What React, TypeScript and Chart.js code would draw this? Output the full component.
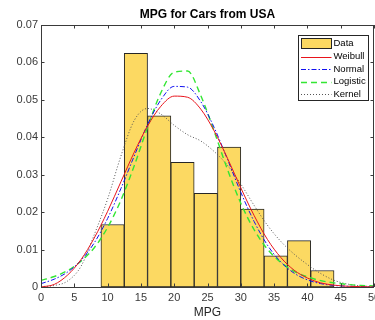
import React, { useEffect, useRef } from "react";
import { Chart, registerables } from "chart.js";

Chart.register(...registerables);

const chartTitle = "MPG for Cars from USA";
const xAxisLabel = "MPG";
const legendLabels = ["Data", "Weibull", "Normal", "Logistic", "Kernel"];

// histogram (normalized, bin width 3.5 from 9 to 44)
const binCenters = [10.75, 14.25, 17.75, 21.25, 24.75, 28.25, 31.75, 35.25, 38.75, 42.25];
const binDensity = [0.0167, 0.0624, 0.0457, 0.0333, 0.025, 0.0374, 0.0208, 0.0083, 0.0124, 0.0044];

const mpgGrid = [0, 2, 4, 6, 8, 10, 12, 14, 16, 18, 20, 22, 24, 26, 28, 30, 32, 34, 36, 38, 40, 42, 44, 46, 48, 50];
const weibullPdf = [0, 0.0007, 0.0032, 0.0073, 0.0131, 0.0202, 0.0281, 0.036, 0.043, 0.0483, 0.051, 0.0507, 0.0475, 0.0417, 0.0344, 0.0265, 0.0191, 0.0127, 0.0079, 0.0045, 0.0024, 0.0011, 0.0005, 0.0002, 0.0001, 0.0];
const normalPdf = [0.0009, 0.0021, 0.004, 0.0071, 0.0118, 0.0183, 0.0263, 0.035, 0.0434, 0.05, 0.0536, 0.0534, 0.0495, 0.0426, 0.0341, 0.0253, 0.0175, 0.0112, 0.0067, 0.0037, 0.0019, 0.0009, 0.0004, 0.0002, 0.0001, 0.0];
const logisticPdf = [0.0018, 0.0028, 0.0044, 0.0069, 0.0105, 0.0159, 0.0232, 0.0324, 0.0427, 0.0519, 0.0574, 0.0577, 0.0511, 0.0416, 0.0314, 0.0224, 0.0153, 0.0101, 0.0066, 0.0042, 0.0027, 0.0017, 0.0011, 0.0007, 0.0004, 0.0003];
const kernelPdf = [0.0001, 0.0004, 0.0016, 0.0055, 0.014, 0.0235, 0.035, 0.0445, 0.0477, 0.0462, 0.0432, 0.0407, 0.039, 0.0362, 0.0325, 0.0275, 0.0218, 0.0165, 0.0122, 0.0088, 0.006, 0.0036, 0.0018, 0.0008, 0.0003, 0.0001];

const xTicks = [0, 5, 10, 15, 20, 25, 30, 35, 40, 45, 50];
const yTicks = [0, 0.01, 0.02, 0.03, 0.04, 0.05, 0.06, 0.07];

const FONT = "'Liberation Sans', Arial, Helvetica, sans-serif";
const BAR_FILL = "rgb(252,217,98)";
const EDGE = "#262626";
const AXIS = "#3a3a3a";

const styles = [
  { color: "#e8141c", dash: [] as number[], width: 1 },
  { color: "#1010f0", dash: [5, 2, 1.5, 2], width: 1 },
  { color: "#33e633", dash: [6, 4], width: 1.4 },
  { color: "#555555", dash: [1, 2], width: 1 },
];

const pts = (ys: number[]) => mpgGrid.map((x, i) => ({ x, y: ys[i] }));

const decorPlugin = {
  id: "decor",
  afterDraw(chart: any) {
    const ctx = chart.ctx;
    const a = chart.chartArea;
    const xs = chart.scales.x;
    const ys = chart.scales.y;
    ctx.save();
    // inward ticks
    ctx.strokeStyle = AXIS;
    ctx.lineWidth = 1;
    ctx.beginPath();
    const tl = 3.5;
    xTicks.forEach((v) => {
      const px = Math.round(xs.getPixelForValue(v)) + 0.5;
      ctx.moveTo(px, a.bottom);
      ctx.lineTo(px, a.bottom - tl);
      ctx.moveTo(px, a.top);
      ctx.lineTo(px, a.top + tl);
    });
    yTicks.forEach((v) => {
      const py = Math.round(ys.getPixelForValue(v)) + 0.5;
      ctx.moveTo(a.left, py);
      ctx.lineTo(a.left + tl, py);
      ctx.moveTo(a.right, py);
      ctx.lineTo(a.right - tl, py);
    });
    ctx.stroke();
    // frame
    ctx.strokeStyle = AXIS;
    ctx.strokeRect(Math.round(a.left) + 0.5, Math.round(a.top) + 0.5, Math.round(a.right - a.left) - 1, Math.round(a.bottom - a.top));

    // title
    ctx.fillStyle = "#000";
    ctx.textAlign = "center";
    ctx.textBaseline = "middle";
    ctx.font = `bold 12px ${FONT}`;
    ctx.fillText(chartTitle, (a.left + a.right) / 2, 14.5);
    // x label
    ctx.fillStyle = "#262626";
    ctx.font = `12px ${FONT}`;
    ctx.fillText(xAxisLabel, (a.left + a.right) / 2, 312.5);

    // legend
    const lx = 298.5, ly = 35.5, lw = 70, lh = 65;
    ctx.fillStyle = "#fff";
    ctx.fillRect(lx, ly, lw, lh);
    ctx.strokeStyle = EDGE;
    ctx.strokeRect(lx, ly, lw, lh);
    const rowY = [43.5, 56.5, 69, 81.5, 94];
    const sx0 = 301, sx1 = 331.5;
    ctx.fillStyle = BAR_FILL;
    ctx.fillRect(301.5, 38.5, 30, 10);
    ctx.strokeStyle = EDGE;
    ctx.strokeRect(301.5, 38.5, 30, 10);
    styles.forEach((s, i) => {
      ctx.beginPath();
      ctx.strokeStyle = s.color;
      ctx.lineWidth = s.width;
      ctx.setLineDash(s.dash);
      ctx.moveTo(sx0, Math.round(rowY[i + 1]) + 0.5);
      ctx.lineTo(sx1, Math.round(rowY[i + 1]) + 0.5);
      ctx.stroke();
    });
    ctx.setLineDash([]);
    ctx.fillStyle = "#000";
    ctx.textAlign = "left";
    ctx.font = `9.5px ${FONT}`;
    legendLabels.forEach((t, i) => {
      ctx.fillText(t, 333.5, rowY[i]);
    });
    ctx.restore();
  },
};

export default function App() {
  const ref = useRef<HTMLCanvasElement | null>(null);
  useEffect(() => {
    if (!ref.current) return;
    Chart.defaults.font.family = FONT;
    const curveSets = [weibullPdf, normalPdf, logisticPdf, kernelPdf];
    const chart = new Chart(ref.current, {
      type: "bar",
      data: {
        datasets: [
          ...curveSets.map((ys, i) => ({
            type: "line" as const,
            label: legendLabels[i + 1],
            data: pts(ys),
            borderColor: styles[i].color,
            borderWidth: styles[i].width,
            borderDash: styles[i].dash,
            pointRadius: 0,
            fill: false,
            cubicInterpolationMode: "monotone" as const,
            order: i + 1,
          })),
          {
            type: "bar" as const,
            label: legendLabels[0],
            data: binCenters.map((x, i) => ({ x, y: binDensity[i] })),
            backgroundColor: BAR_FILL,
            borderColor: EDGE,
            borderWidth: 1,
            borderSkipped: false,
            barPercentage: 1,
            categoryPercentage: 1,
            order: 10,
          },
        ],
      } as any,
      options: {
        responsive: false,
        maintainAspectRatio: false,
        animation: false,
        layout: { padding: { top: 25, right: 1, left: 0, bottom: 0 } },
        plugins: { legend: { display: false }, title: { display: false }, tooltip: { enabled: false } },
        scales: {
          x: {
            type: "linear",
            min: 0,
            max: 50,
            offset: false,
            grid: { display: false, drawTicks: false, offset: false },
            border: { display: false },
            ticks: {
              stepSize: 5,
              autoSkip: false,
              maxRotation: 0,
              padding: 4,
              color: AXIS,
              font: { size: 11, family: FONT },
            },
            afterFit: (s: any) => {
              s.height = 33;
              s.paddingLeft = 0;
              s.paddingRight = 0;
            },
          },
          y: {
            type: "linear",
            min: 0,
            max: 0.07,
            grid: { display: false, drawTicks: false },
            border: { display: false },
            ticks: {
              stepSize: 0.01,
              padding: 3,
              color: AXIS,
              font: { size: 11, family: FONT },
              callback: (v: any) => (Math.abs(v) < 1e-9 ? "0" : Number(v).toFixed(2)),
            },
            afterFit: (s: any) => {
              s.width = 41;
              s.paddingTop = 0;
              s.paddingBottom = 0;
            },
          },
        },
      } as any,
      plugins: [decorPlugin],
    });
    return () => chart.destroy();
  }, []);
  return (
    <div style={{ position: "fixed", left: 0, top: 0, width: 375, height: 320, background: "#fff" }}>
      <canvas ref={ref} width={375} height={320} style={{ display: "block" }} />
    </div>
  );
}
